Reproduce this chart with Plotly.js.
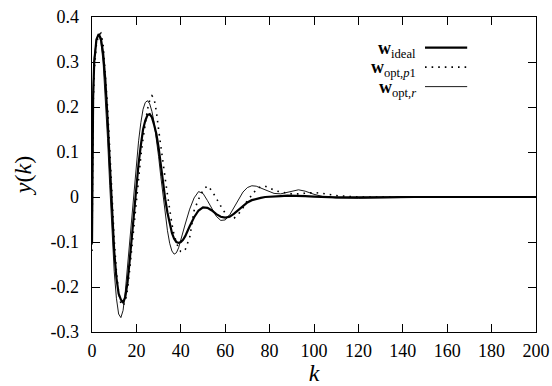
<!DOCTYPE html>
<html>
<head>
<meta charset="utf-8">
<script src="https://cdn.plot.ly/plotly-3.0.1.min.js"></script>
<style>html,body{margin:0;padding:0;background:#fff;}#chart{width:552px;height:386px;}</style>
</head>
<body>
<div id="chart"></div>
<script>
const k = [0,0.5,1,2,3,4,5,6,7,8,9,10,11,12,13,14,15,16,17,18,19,20,21,22,23,24,25,26,27,28,29,30,31,32,33,34,35,36,37,38,39,40,41,42,44,46,48,50,52,54,56,58,60,62,64,66,68,70,72,74,76,78,80,82,85,88,90,93,96,100,104,110,120,130,140,160,180,200];

const yIdeal = [-0.10,0.22,0.30,0.35,0.362,0.352,0.32,0.26,0.175,0.07,-0.04,-0.12,-0.18,-0.215,-0.228,-0.235,-0.222,-0.19,-0.14,-0.085,-0.025,0.03,0.075,0.115,0.15,0.17,0.182,0.184,0.177,0.16,0.14,0.11,0.07,0.03,-0.005,-0.035,-0.06,-0.08,-0.093,-0.1,-0.102,-0.1,-0.095,-0.087,-0.065,-0.045,-0.03,-0.023,-0.024,-0.03,-0.038,-0.044,-0.046,-0.044,-0.037,-0.028,-0.019,-0.012,-0.007,-0.004,-0.002,0.0,0.001,0.002,0.002,0.003,0.003,0.003,0.002,0.001,0.0,-0.001,-0.001,0,0,0,0,0];

const yOptP1 = [-0.12,0.2,0.28,0.34,0.36,0.364,0.34,0.28,0.2,0.105,0.0,-0.095,-0.165,-0.213,-0.236,-0.242,-0.232,-0.205,-0.16,-0.108,-0.055,-0.005,0.045,0.09,0.13,0.165,0.195,0.215,0.225,0.218,0.19,0.15,0.11,0.075,0.04,0.005,-0.03,-0.06,-0.085,-0.103,-0.115,-0.121,-0.122,-0.117,-0.09,-0.03,-0.005,0.015,0.025,0.014,-0.004,-0.02,-0.036,-0.045,-0.047,-0.038,-0.024,-0.008,0.004,0.017,0.023,0.024,0.02,0.015,0.011,0.008,0.007,0.007,0.009,0.01,0.008,0.003,0.0,0,0,0,0,0];

const yOptR = [-0.08,0.24,0.31,0.35,0.36,0.345,0.3,0.225,0.13,0.025,-0.08,-0.165,-0.225,-0.26,-0.268,-0.252,-0.21,-0.155,-0.095,-0.035,0.025,0.08,0.125,0.165,0.195,0.21,0.214,0.207,0.19,0.165,0.13,0.09,0.045,0.0,-0.04,-0.075,-0.103,-0.12,-0.127,-0.124,-0.113,-0.097,-0.078,-0.06,-0.027,-0.002,0.012,0.008,-0.008,-0.027,-0.043,-0.052,-0.051,-0.04,-0.022,-0.004,0.011,0.021,0.025,0.024,0.02,0.015,0.011,0.008,0.007,0.01,0.013,0.016,0.013,0.006,0.001,-0.002,-0.003,-0.002,-0.001,0,0,0];

const seriesNames = ['<b>w</b><sub>ideal</sub>', '<b>w</b><sub>opt,<i>p</i>1</sub>', '<b>w</b><sub>opt,<i>r</i></sub>'];
const xTicks = [0,20,40,60,80,100,120,140,160,180,200];
const yTicks = [-0.3,-0.2,-0.1,0,0.1,0.2,0.3,0.4];

const serif = 'Liberation Serif';

const traces = [
  {x: k, y: yIdeal, mode: 'lines', line: {color: '#000', width: 2.2}, name: seriesNames[0]},
  {x: k, y: yOptP1, mode: 'lines', line: {color: '#000', width: 1.6, dash: '1.6px,5px'}, name: seriesNames[1]},
  {x: k, y: yOptR, mode: 'lines', line: {color: '#000', width: 0.9}, name: seriesNames[2]}
];

const legY = [0.897, 0.835, 0.773];
const legStyles = [{width: 2.2}, {width: 1.6, dash: '1.6px,5px'}, {width: 0.9}];
const annotations = [];
const shapes = [];
for (let i = 0; i < 3; i++) {
  annotations.push({xref: 'paper', yref: 'paper', x: 0.735, y: legY[i], xanchor: 'right', yanchor: 'middle',
    text: seriesNames[i], showarrow: false, font: {family: serif, size: 18, color: '#000'}});
  shapes.push({type: 'line', xref: 'paper', yref: 'paper', x0: 0.75, x1: 0.845, y0: legY[i] + 0.006, y1: legY[i] + 0.006,
    line: Object.assign({color: '#000'}, legStyles[i])});
}

const tickFont = {family: serif, size: 18, color: '#000'};

const layout = {
  width: 552, height: 386,
  margin: {l: 92, r: 16, t: 17, b: 54},
  paper_bgcolor: '#fff', plot_bgcolor: '#fff',
  showlegend: false,
  font: {family: serif, size: 18, color: '#000'},
  xaxis: {
    range: [0, 200], tickvals: xTicks, ticktext: xTicks.map(String), tickfont: tickFont,
    ticks: 'inside', ticklen: 8, tickwidth: 1, tickcolor: '#000',
    showline: true, linecolor: '#000', linewidth: 1.3, mirror: 'ticks',
    showgrid: false, zeroline: false, ticklabelstandoff: 2,
    title: {text: '<i>k</i>', font: {family: serif, size: 24, color: '#000'}, standoff: 2}
  },
  yaxis: {
    range: [-0.3, 0.4], tickvals: yTicks, ticktext: yTicks.map(v => String(v)), tickfont: tickFont,
    ticks: 'inside', ticklen: 8, tickwidth: 1, tickcolor: '#000',
    showline: true, linecolor: '#000', linewidth: 1.3, mirror: 'ticks',
    showgrid: false, zeroline: false, ticklabelstandoff: 8,
    title: {text: '<i>y</i>(<i>k</i>)', font: {family: serif, size: 24, color: '#000'}, standoff: 12}
  },
  annotations: annotations,
  shapes: shapes
};

Plotly.newPlot('chart', traces, layout, {displayModeBar: false, staticPlot: true});
</script>
</body>
</html>
